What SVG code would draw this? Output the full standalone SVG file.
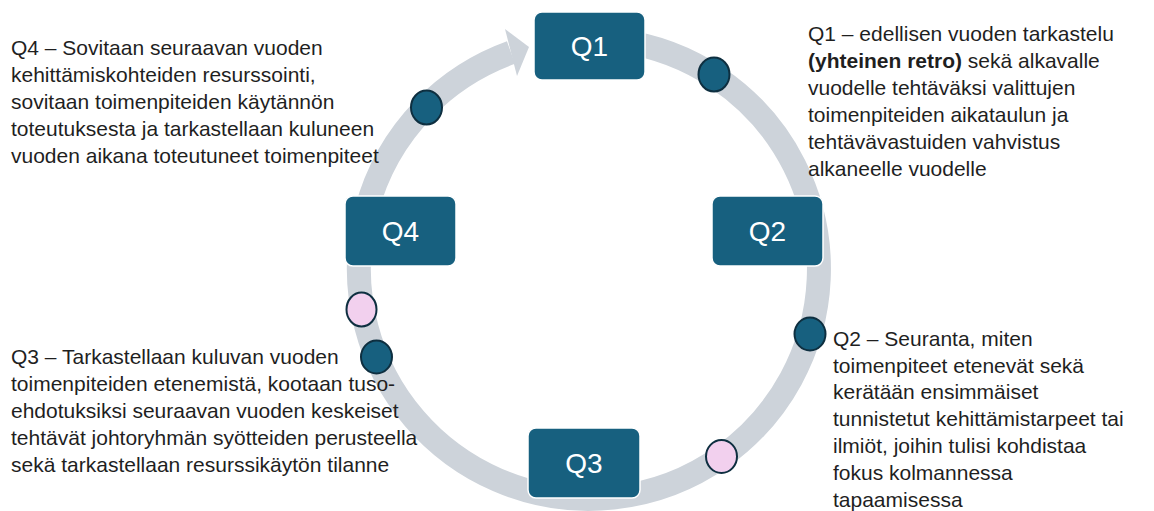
<svg xmlns="http://www.w3.org/2000/svg" width="1154" height="511" viewBox="0 0 1154 511">
<style>
.box{fill:#17607F;stroke:#ffffff;stroke-width:1.5}
.lbl{font-family:"Liberation Sans",Arial,sans-serif;font-size:28px;fill:#ffffff;text-anchor:middle}
.txt{font-family:"Liberation Sans",Arial,sans-serif;font-size:21px;fill:#1f1f1f}
.dot{fill:#17607F;stroke:#0E2F40;stroke-width:2}
.pink{fill:#F2D0EE;stroke:#0E2F40;stroke-width:2}
</style>
<rect width="1154" height="511" fill="#ffffff"/>
<g id="connectors">
<path d="M 620 41 A 230 230 0 1 1 511 52.5" fill="none" stroke="#CDD3DA" stroke-width="24"/>
<polygon points="505,29 529,47 517,76" fill="#CDD3DA"/>
</g>
<g id="markers">
<ellipse class="dot" cx="426.5" cy="107.5" rx="15.5" ry="17"/>
<ellipse class="dot" cx="714" cy="74.5" rx="15.5" ry="17"/>
<ellipse class="dot" cx="810" cy="334" rx="15.5" ry="16.5"/>
<ellipse class="pink" cx="721.5" cy="456.5" rx="15.5" ry="16.5"/>
<ellipse class="pink" cx="361.5" cy="309.5" rx="15" ry="17"/>
<ellipse class="dot" cx="376.5" cy="357" rx="15.5" ry="16.5"/>
</g>
<g id="q1">
<rect class="box" x="534" y="12" width="111" height="68" rx="8"/>
<text class="lbl" x="589.5" y="56">Q1</text>
</g>
<g id="q2">
<rect class="box" x="712" y="196" width="111" height="70" rx="8"/>
<text class="lbl" x="767.5" y="241">Q2</text>
</g>
<g id="q3">
<rect class="box" x="528" y="428" width="112" height="70" rx="8"/>
<text class="lbl" x="584" y="473">Q3</text>
</g>
<g id="q4">
<rect class="box" x="345" y="196" width="111" height="70" rx="8"/>
<text class="lbl" x="400.5" y="241">Q4</text>
</g>
<g id="text-q1">
<text class="txt" x="808" y="40.5">Q1 – edellisen vuoden tarkastelu</text>
<text class="txt" x="808" y="67.5"><tspan font-weight="bold">(yhteinen retro)</tspan> sekä alkavalle</text>
<text class="txt" x="808" y="94.5">vuodelle tehtäväksi valittujen</text>
<text class="txt" x="808" y="121.5">toimenpiteiden aikataulun ja</text>
<text class="txt" x="808" y="148.5">tehtävävastuiden vahvistus</text>
<text class="txt" x="808" y="175.5">alkaneelle vuodelle</text>
</g>
<g id="text-q2">
<text class="txt" x="833" y="345.5">Q2 – Seuranta, miten</text>
<text class="txt" x="833" y="372.5">toimenpiteet etenevät sekä</text>
<text class="txt" x="833" y="399">kerätään ensimmäiset</text>
<text class="txt" x="833" y="426">tunnistetut kehittämistarpeet tai</text>
<text class="txt" x="833" y="453">ilmiöt, joihin tulisi kohdistaa</text>
<text class="txt" x="833" y="480">fokus kolmannessa</text>
<text class="txt" x="833" y="506.5">tapaamisessa</text>
</g>
<g id="text-q3">
<text class="txt" x="11" y="363.5">Q3 – Tarkastellaan kuluvan vuoden</text>
<text class="txt" x="11" y="390.5">toimenpiteiden etenemistä, kootaan tuso-</text>
<text class="txt" x="11" y="418">ehdotuksiksi seuraavan vuoden keskeiset</text>
<text class="txt" x="11" y="445">tehtävät johtoryhmän syötteiden perusteella</text>
<text class="txt" x="11" y="472">sekä tarkastellaan resurssikäytön tilanne</text>
</g>
<g id="text-q4">
<text class="txt" x="11" y="54.5">Q4 – Sovitaan seuraavan vuoden</text>
<text class="txt" x="11" y="81.5">kehittämiskohteiden resurssointi,</text>
<text class="txt" x="11" y="108.5">sovitaan toimenpiteiden käytännön</text>
<text class="txt" x="11" y="135.5">toteutuksesta ja tarkastellaan kuluneen</text>
<text class="txt" x="11" y="162.5">vuoden aikana toteutuneet toimenpiteet</text>
</g>
</svg>
